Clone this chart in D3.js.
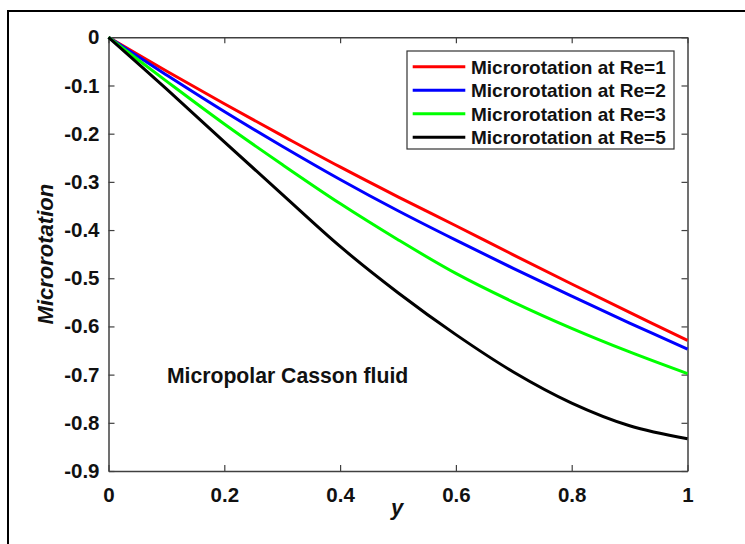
<!DOCTYPE html>
<html>
<head>
<meta charset="utf-8">
<script src="https://cdn.jsdelivr.net/npm/d3@7"></script>
<style>
  html, body { margin: 0; padding: 0; background: #fff; }
  svg { display: block; }
  text { font-family: "Liberation Sans", Arial, Helvetica, sans-serif; font-weight: bold; fill: #111; }
</style>
</head>
<body>
<svg id="chart" width="745" height="544"></svg>
<script>
// ---- data ----
const yPos = [0, 0.1, 0.2, 0.3, 0.4, 0.5, 0.6, 0.7, 0.8, 0.9, 1];
const re1 = [0, -0.070, -0.138, -0.204, -0.269, -0.331, -0.391, -0.452, -0.512, -0.571, -0.629];
const re2 = [0, -0.078, -0.154, -0.226, -0.295, -0.360, -0.421, -0.480, -0.537, -0.593, -0.647];
const re3 = [0, -0.091, -0.180, -0.264, -0.345, -0.420, -0.490, -0.550, -0.604, -0.653, -0.698];
const re5 = [0, -0.107, -0.217, -0.326, -0.434, -0.530, -0.617, -0.695, -0.759, -0.806, -0.833];
const seriesNames = ["Microrotation at Re=1", "Microrotation at Re=2", "Microrotation at Re=3", "Microrotation at Re=5"];
const seriesColors = ["#ff0000", "#0000ff", "#00ff00", "#000000"];
const xTicks = [0, 0.2, 0.4, 0.6, 0.8, 1];
const yTicks = [0, -0.1, -0.2, -0.3, -0.4, -0.5, -0.6, -0.7, -0.8, -0.9];
const xLabel = "y";
const yLabel = "Microrotation";
const annotation = "Micropolar Casson fluid";

const series = [re1, re2, re3, re5];

const svg = d3.select("#chart");

// outer frame (extends beyond bottom/right of the picture)
svg.append("rect")
  .attr("x", 8).attr("y", 11).attr("width", 760).attr("height", 560)
  .attr("fill", "#fff").attr("stroke", "#000").attr("stroke-width", 2);

const L = 108.5, R = 687.5, T = 37.3, B = 471;
const x = d3.scaleLinear().domain([0, 1]).range([L, R]);
const y = d3.scaleLinear().domain([-0.9, 0]).range([B, T]);

const fmtY = d => d === 0 ? "0" : d.toFixed(1);
const fmtX = d => (d === 0 || d === 1) ? String(d) : d.toFixed(1);

const axisColor = "#404040";

function styleAxis(g) {
  g.selectAll("path.domain").attr("stroke", axisColor).attr("stroke-width", 1.5);
  g.selectAll(".tick line").attr("stroke", axisColor).attr("stroke-width", 1.2);
  g.selectAll("text").attr("font-size", "20.5px").attr("font-family", '"Liberation Sans", Arial, sans-serif')
    .attr("font-weight", "bold").attr("fill", "#1a1a1a");
}

svg.append("g").attr("transform", `translate(0,${B})`)
  .call(d3.axisBottom(x).tickValues(xTicks).tickFormat(fmtX).tickSizeInner(-6).tickSizeOuter(0).tickPadding(16.5))
  .call(styleAxis);
svg.append("g").attr("transform", `translate(0,${T})`)
  .call(d3.axisTop(x).tickValues(xTicks).tickFormat("").tickSizeInner(-6).tickSizeOuter(0))
  .call(styleAxis);
svg.append("g").attr("transform", `translate(${L},0)`)
  .call(d3.axisLeft(y).tickValues(yTicks).tickFormat(fmtY).tickSizeInner(-6).tickSizeOuter(0).tickPadding(9))
  .call(styleAxis);
svg.append("g").attr("transform", `translate(${R},0)`)
  .call(d3.axisRight(y).tickValues(yTicks).tickFormat("").tickSizeInner(-6).tickSizeOuter(0))
  .call(styleAxis);

// curves
const line = d3.line()
  .x((d, i) => x(yPos[i]))
  .y(d => y(d))
  .curve(d3.curveCatmullRom.alpha(0.5));

svg.append("g").selectAll("path.series")
  .data(series)
  .join("path")
  .attr("class", "series")
  .attr("d", d => line(d))
  .attr("fill", "none")
  .attr("stroke", (d, i) => seriesColors[i])
  .attr("stroke-width", 3);

// axis labels
svg.append("text")
  .attr("x", (L + R) / 2 - 1).attr("y", 515)
  .attr("text-anchor", "middle")
  .attr("font-size", "22px").attr("font-style", "italic")
  .text(xLabel);

svg.append("text")
  .attr("transform", `translate(53,${(T + B) / 2}) rotate(-90)`)
  .attr("text-anchor", "middle")
  .attr("font-size", "22px").attr("font-style", "italic")
  .text(yLabel);

// annotation
svg.append("text")
  .attr("x", x(0.1) + 0.5).attr("y", y(-0.7) + 8)
  .attr("font-size", "21.2px")
  .text(annotation);

// legend
const lg = svg.append("g");
lg.append("rect")
  .attr("x", 407).attr("y", 51).attr("width", 267).attr("height", 98)
  .attr("fill", "#fff").attr("stroke", "#333").attr("stroke-width", 1.2);
const rowY = [66.7, 90.2, 113.8, 137.3];
seriesNames.forEach((name, i) => {
  lg.append("line")
    .attr("x1", 412.7).attr("x2", 465.3)
    .attr("y1", rowY[i]).attr("y2", rowY[i])
    .attr("stroke", seriesColors[i]).attr("stroke-width", 3);
  lg.append("text")
    .attr("x", 471).attr("y", rowY[i]).attr("dy", "0.36em")
    .attr("font-size", "19px")
    .text(name);
});
</script>
</body>
</html>
